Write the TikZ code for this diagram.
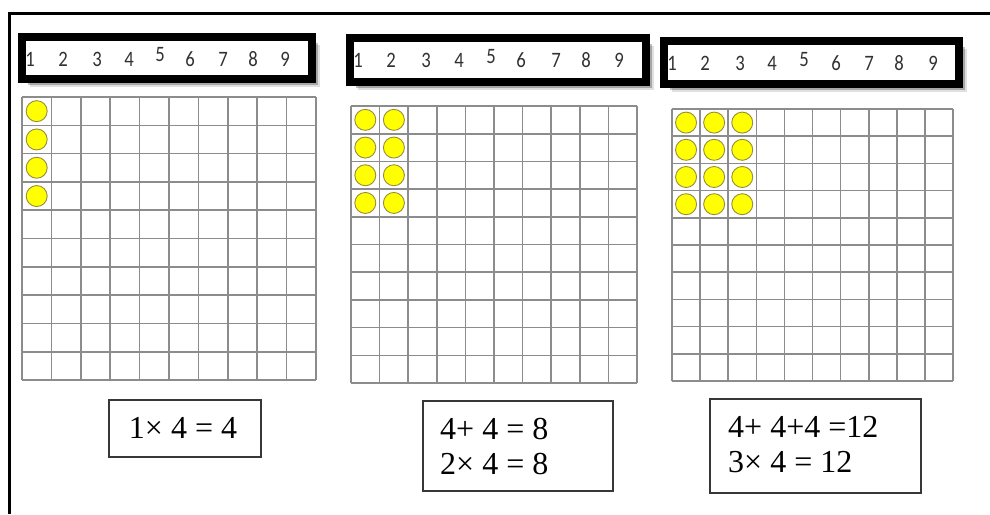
\documentclass[tikz,border=0pt]{standalone}
\usepackage{fontspec}
\setmainfont{Liberation Serif}
\newfontfamily\digfont{Carlito}
\usetikzlibrary{shadows}
\definecolor{gridgray}{RGB}{140,140,140}
\definecolor{countedge}{RGB}{150,140,60}
\definecolor{countfill}{RGB}{255,255,0}
\definecolor{digitcol}{RGB}{50,50,50}
\definecolor{eqedge}{RGB}{55,55,55}

\newcommand\drawtengrid[4]{%
  \foreach \i in {0,...,10}{%
    \draw[gridline] ({#1+\i*(#3-#1)/10},#2) -- ({#1+\i*(#3-#1)/10},#4);
    \draw[gridline] (#1,{#2+\i*(#4-#2)/10}) -- (#3,{#2+\i*(#4-#2)/10});
  }}
\newcommand\drawcounters[6]{%
  \foreach \c in {1,...,#2}{\foreach \r in {1,...,4}{%
    \node[counter] (#1-\c-\r) at ({#3+(\c-0.5)*(#5-#3)/10},{#4+(\r-0.5)*(#6-#4)/10}) {};
  }}}
\newcommand\narrowdigit[1]{\scalebox{0.85}[1]{#1}}

\begin{document}
\begin{tikzpicture}[x=1pt,y=-1pt,
  gridline/.style={draw=gridgray,line width=1.6pt},
  counter/.style={circle,minimum size=21pt,inner sep=0pt,fill=countfill,draw=countedge,line width=0.9pt},
  numbox/.style={rectangle,draw=black,fill=white,line width=8pt,inner sep=0pt,
    drop shadow={shadow xshift=8pt,shadow yshift=-8pt,opacity=0.12,fill=black},
    drop shadow={shadow xshift=6pt,shadow yshift=-6pt,opacity=0.25,fill=black}},
  digit/.style={font=\digfont\fontsize{22}{24}\selectfont,text=digitcol,inner sep=0pt},
  eqbox/.style={rectangle,draw=eqedge,line width=1.5pt,inner sep=0pt},
  eqtext/.style={font=\fontsize{32}{35}\selectfont,text=black,inner sep=0pt}]
\useasboundingbox (0,0) rectangle (990,514);
\fill[white] (0,0) rectangle (990,514);

% outer frame
\draw[line width=3pt] (990,13) -- (9,13) -- (9,514);

% number lines
\node[numbox,minimum width=290pt,minimum height=42pt] (nb1) at (167,58) {};
\node[numbox,minimum width=296pt,minimum height=44pt] (nb2) at (498,60) {};
\node[numbox,minimum width=295pt,minimum height=43pt] (nb3) at (811.5,62.5) {};

\foreach \d/\x/\y in {1/30/59,2/63/59,3/97/59,4/129/59,5/160/55,6/190/59,7/223/59,8/253/59,9/285/59}
  \node[digit] (nb1-\d) at (\x,\y) {\narrowdigit{\d}};
\foreach \d/\x/\y in {1/358/60,2/391/60,3/426/60,4/459/60,5/491/57,6/521/60,7/556/60,8/586/60,9/619/60}
  \node[digit] (nb2-\d) at (\x,\y) {\narrowdigit{\d}};
\foreach \d/\x/\y in {1/672/63,2/705/63,3/740/63,4/772/63,5/804/60,6/836/63,7/869/63,8/899/63,9/933/63}
  \node[digit] (nb3-\d) at (\x,\y) {\narrowdigit{\d}};

% grids
\drawtengrid{22}{97}{316}{380}
\drawtengrid{351}{106}{637}{383}
\drawtengrid{672}{109}{953}{381}

% counters
\drawcounters{ga}{1}{22}{97}{316}{380}
\drawcounters{gb}{2}{351}{106}{637}{383}
\drawcounters{gc}{3}{672}{109}{953}{381}

% equation boxes
\node[eqbox,minimum width=152pt,minimum height=57pt] (eqa) at (185,428.5) {};
\node[eqtext,anchor=base] (eqa1) at (183,438) {1× 4 = 4};

\node[eqbox,minimum width=190pt,minimum height=90pt] (eqb) at (518,446) {};
\node[eqtext,anchor=base west] (eqb1) at (440,439) {4+ 4 = 8};
\node[eqtext,anchor=base west] (eqb2) at (440,474) {2× 4 = 8};

\node[eqbox,minimum width=211pt,minimum height=94pt] (eqc) at (815.5,446) {};
\node[eqtext,anchor=base west] (eqc1) at (728,437) {4+ 4+4 =12};
\node[eqtext,anchor=base west] (eqc2) at (728,472) {3× 4 = 12};
\end{tikzpicture}
\end{document}
